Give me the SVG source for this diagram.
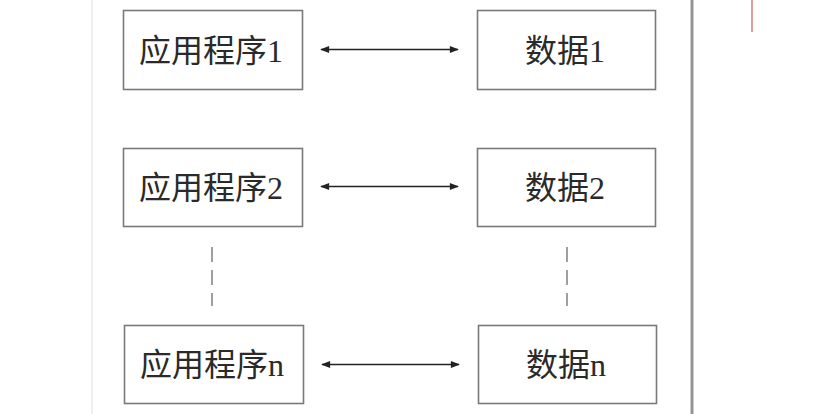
<svg xmlns="http://www.w3.org/2000/svg" width="829" height="414" viewBox="0 0 829 414">
<defs>
<style>
.box{fill:#fff;stroke:#7a7a7a;stroke-width:1.6}
.lbl{font-family:"Liberation Serif","Noto Sans CJK SC",serif;font-size:32px;fill:#2a2a2a;text-anchor:middle}
.conn{stroke:#222;stroke-width:1.4;fill:none;marker-start:url(#ah);marker-end:url(#ah)}
.dash{stroke:#888;stroke-width:1.6;stroke-dasharray:15 8;fill:none}
</style>
<marker id="ah" viewBox="0 0 10 10" refX="9" refY="5" markerWidth="12" markerHeight="9" markerUnits="userSpaceOnUse" orient="auto-start-reverse">
<path d="M0,1 L10,5 L0,9 z" fill="#222"/>
</marker>
</defs>
<rect width="829" height="414" fill="#fff"/>
<line x1="92" y1="0" x2="92" y2="414" stroke="#eeeeee" stroke-width="2"/>
<line x1="692" y1="0" x2="692" y2="414" stroke="#959595" stroke-width="3"/>
<line x1="752" y1="0" x2="752" y2="32" stroke="#d9604f" stroke-width="1.2"/>
<g id="app1"><rect class="box" x="123.5" y="10.5" width="179" height="79"/><text class="lbl" x="211" y="62">应用程序1</text></g>
<g id="data1"><rect class="box" x="477.5" y="10.5" width="178" height="79"/><text class="lbl" x="565" y="62">数据1</text></g>
<g id="app2"><rect class="box" x="123.5" y="148.5" width="179" height="78"/><text class="lbl" x="211" y="199">应用程序2</text></g>
<g id="data2"><rect class="box" x="477.5" y="148.5" width="178" height="78"/><text class="lbl" x="565" y="199">数据2</text></g>
<g id="appn"><rect class="box" x="124.5" y="325.5" width="179" height="78"/><text class="lbl" x="212" y="376">应用程序n</text></g>
<g id="datan"><rect class="box" x="478.5" y="325.5" width="178" height="78"/><text class="lbl" x="566" y="376">数据n</text></g>
<g id="connectors">
<line class="conn" x1="321" y1="49.5" x2="458" y2="49.5"/>
<line class="conn" x1="321" y1="186.5" x2="458" y2="186.5"/>
<line class="conn" x1="322" y1="364.5" x2="459" y2="364.5"/>
<line class="dash" x1="212" y1="247" x2="212" y2="306"/>
<line class="dash" x1="567" y1="247" x2="567" y2="306"/>
</g>
</svg>
